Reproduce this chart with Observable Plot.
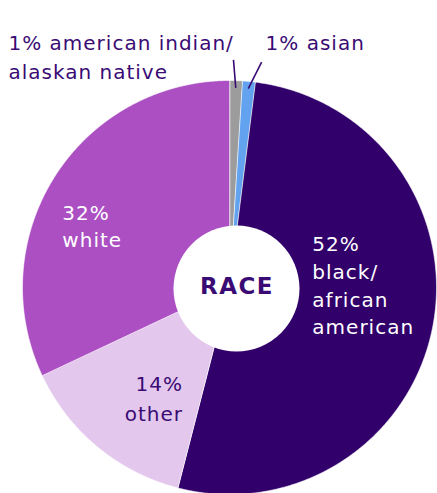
<!DOCTYPE html>
<html>
<head>
<meta charset="utf-8">
<script src="https://cdn.jsdelivr.net/npm/d3@7"></script>
<script src="https://cdn.jsdelivr.net/npm/@observablehq/plot@0.6"></script>
<style>
  html, body { margin: 0; padding: 0; background: #fff; }
  #chart { width: 437px; height: 493px; }
  #chart svg text { letter-spacing: 1px; }
  #chart svg text.center-label { letter-spacing: 1.5px; }
</style>
</head>
<body>
<div id="chart"></div>
<script>
// ---- data ----
const categories = ["american indian/\nalaskan native", "asian", "black/\nafrican\namerican", "other", "white"];
const keys = ["aian", "asian", "black", "other", "white"];
const percents = [1, 1, 52, 14, 32];
const colors = ["#9c9c9c", "#62a2ee", "#31006b", "#e3c7ec", "#ab4fc3"];
const centerLabel = "RACE";

const INK = "#3a0b74";
const FONT = "'DejaVu Sans', sans-serif";

const total = d3.sum(percents);
let acc = 0;
const slices = keys.map((k, i) => {
  const a0 = acc / total * 2 * Math.PI;
  acc += percents[i];
  const a1 = acc / total * 2 * Math.PI;
  return {key: k, label: categories[i], pct: percents[i], a0, a1, mid: (a0 + a1) / 2};
});
const polar = (a, r) => ({x: r * Math.sin(a), y: r * Math.cos(a)});

const wedges = [];
for (const s of slices) {
  const n = Math.max(4, Math.ceil((s.a1 - s.a0) / (Math.PI / 360)));
  wedges.push({key: s.key, x: 0, y: 0});
  for (let j = 0; j <= n; j++) wedges.push({key: s.key, ...polar(s.a0 + (s.a1 - s.a0) * j / n, 1)});
}

const byKey = Object.fromEntries(slices.map(s => [s.key, s]));
const inside = [
  {s: byKey.black, text: `${byKey.black.pct}%\n${byKey.black.label}`, fill: "#fff", anchor: "start", dx: -29, dy: -77, lh: 1.38},
  {s: byKey.white, text: `${byKey.white.pct}%\n${byKey.white.label}`, fill: "#fff", anchor: "start", dx: -71, dy: -26, lh: 1.35},
  {s: byKey.other, text: `${byKey.other.pct}%\n${byKey.other.label}`, fill: INK, anchor: "end", dx: 26, dy: -6, lh: 1.52}
].map(d => ({...d, ...polar(d.s.mid, 0.55)}));

const leaders = [
  {s: byKey.aian, off: -0.8 * Math.PI / 180, text: `${byKey.aian.pct}% ${byKey.aian.label}`, dx: -225, dy: -30},
  {s: byKey.asian, off: 2.7 * Math.PI / 180, text: `${byKey.asian.pct}% ${byKey.asian.label}`, dx: 4, dy: -33}
].map(d => {
  const p1 = polar(d.s.mid, 0.965), p2 = polar(d.s.mid + d.off, 1.10);
  return {...d, x1: p1.x, y1: p1.y, x2: p2.x, y2: p2.y};
});

const plot = Plot.plot({
  width: 437,
  height: 493,
  margin: 0,
  style: {background: "#fff", fontFamily: FONT, overflow: "visible"},
  x: {domain: [-1, 1], range: [22, 436], axis: null},
  y: {domain: [-1, 1], range: [494, 80], axis: null},
  color: {domain: keys, range: colors},
  marks: [
    Plot.line(wedges, {x: "x", y: "y", z: "key", fill: "key", stroke: "#fff", strokeWidth: 0.6, curve: "linear-closed"}),
    Plot.dot([centerLabel], {x: () => 0, y: () => 0, r: 63, fill: "#fff", stroke: "none", dx: 7, dy: 1}),
    Plot.link(leaders, {x1: "x1", y1: "y1", x2: "x2", y2: "y2", stroke: INK, strokeWidth: 1.6}),
    ...leaders.map(d => Plot.text([d], {x: "x2", y: "y2", text: "text", dx: d.dx, dy: d.dy, textAnchor: "start", lineAnchor: "top", fill: INK, fontSize: 20, lineHeight: 1.45})),
    ...inside.map(d => Plot.text([d], {x: "x", y: "y", text: "text", textAnchor: d.anchor, lineAnchor: "top", dx: d.dx, dy: d.dy, fill: d.fill, fontSize: 20, lineHeight: d.lh})),
    Plot.text([centerLabel], {x: () => 0, y: () => 0, text: d => d, fill: INK, fontSize: 23, fontWeight: "bold", dx: 7.5, dy: -1})
  ]
});
plot.querySelectorAll("text").forEach(t => {
  if (t.textContent === centerLabel) t.classList.add("center-label");
});
document.getElementById("chart").appendChild(plot);
</script>
</body>
</html>
